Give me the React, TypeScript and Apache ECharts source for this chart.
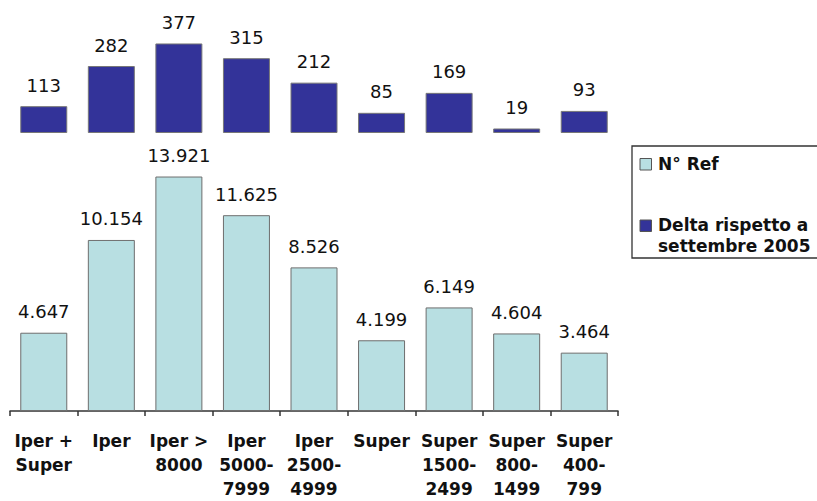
import React, { useEffect, useRef } from "react";
import * as echarts from "echarts";

// Store formats (category labels, split over lines as printed under the axis)
const categories: string[] = [
  "Iper +\nSuper",
  "Iper",
  "Iper >\n8000",
  "Iper\n5000-\n7999",
  "Iper\n2500-\n4999",
  "Super",
  "Super\n1500-\n2499",
  "Super\n800-\n1499",
  "Super\n400-\n799",
];

// Number of references per format
const refCounts: number[] = [4647, 10154, 13921, 11625, 8526, 4199, 6149, 4604, 3464];

// Change versus September 2005
const deltaSept2005: number[] = [113, 282, 377, 315, 212, 85, 169, 19, 93];

const refName = "N° Ref";
const deltaName = "Delta rispetto a\nsettembre 2005";

const FONT = "DejaVu Sans";
const REF_COLOR = "#b8dfe2";
const REF_BORDER = "#6e6e6e";
const DELTA_COLOR = "#333399";
const DELTA_BORDER = "#777";

// Italian grouping: 13921 -> "13.921"
const fmtIt = (v: number): string =>
  String(Math.round(v)).replace(/\B(?=(\d{3})+(?!\d))/g, ".");

export default function App() {
  const ref = useRef<HTMLDivElement>(null);

  useEffect(() => {
    if (!ref.current) return;
    const chart = echarts.init(ref.current, null, { renderer: "svg" });

    const valueLabel = {
      show: true,
      position: "top" as const,
      distance: 12,
      fontFamily: FONT,
      fontSize: 18,
      color: "#111",
    };

    const legendFont = {
      fontFamily: FONT,
      fontSize: 17,
      fontWeight: "bold",
      fill: "#111",
    };

    chart.setOption({
      animation: false,
      backgroundColor: "#ffffff",
      grid: [
        { left: 10, width: 608, top: 38, height: 95 },
        { left: 10, width: 608, top: 141.5, height: 273 },
      ],
      xAxis: [
        {
          type: "category",
          gridIndex: 0,
          data: categories,
          show: false,
        },
        {
          type: "category",
          gridIndex: 1,
          data: categories,
          axisLine: { show: true, lineStyle: { color: "#333", width: 1.5 } },
          axisTick: { show: true, length: 5, lineStyle: { color: "#333", width: 1.5 } },
          axisLabel: {
            interval: 0,
            margin: 18,
            fontFamily: FONT,
            fontSize: 17,
            fontWeight: "bold",
            lineHeight: 24,
            color: "#111",
          },
        },
      ],
      yAxis: [
        { type: "value", gridIndex: 0, min: 0, max: 400, show: false },
        { type: "value", gridIndex: 1, min: 0, max: 16000, show: false },
      ],
      // Legend box: frame open past the right edge, swatches and captions
      graphic: [
        {
          type: "polyline",
          shape: {
            points: [
              [830, 146],
              [632, 146],
              [632, 258],
              [830, 258],
            ],
          },
          style: { fill: "none", stroke: "#333", lineWidth: 1.3 },
        },
        {
          type: "rect",
          shape: { x: 640, y: 158.5, width: 11.5, height: 11.5 },
          style: { fill: REF_COLOR, stroke: "#555", lineWidth: 1 },
        },
        {
          type: "text",
          x: 658,
          y: 164,
          style: { ...legendFont, text: refName, verticalAlign: "middle" },
        },
        {
          type: "rect",
          shape: { x: 640, y: 220, width: 11.5, height: 11.5 },
          style: { fill: DELTA_COLOR, stroke: "#555", lineWidth: 1 },
        },
        {
          type: "text",
          x: 658,
          y: 214.5,
          style: { ...legendFont, text: deltaName, lineHeight: 21, verticalAlign: "top" },
        },
      ],
      series: [
        {
          name: refName,
          type: "bar",
          xAxisIndex: 1,
          yAxisIndex: 1,
          data: refCounts,
          barWidth: 47,
          itemStyle: { color: REF_COLOR, borderColor: REF_BORDER, borderWidth: 1 },
          label: { ...valueLabel, formatter: (p: any) => fmtIt(p.value) },
        },
        {
          name: deltaName,
          type: "bar",
          xAxisIndex: 0,
          yAxisIndex: 0,
          data: deltaSept2005,
          barWidth: 47,
          itemStyle: { color: DELTA_COLOR, borderColor: DELTA_BORDER, borderWidth: 1 },
          label: { ...valueLabel, formatter: (p: any) => fmtIt(p.value) },
        },
      ],
    });

    return () => chart.dispose();
  }, []);

  return (
    <div
      ref={ref}
      style={{ position: "absolute", left: 0, top: 0, width: 817, height: 501 }}
    />
  );
}
